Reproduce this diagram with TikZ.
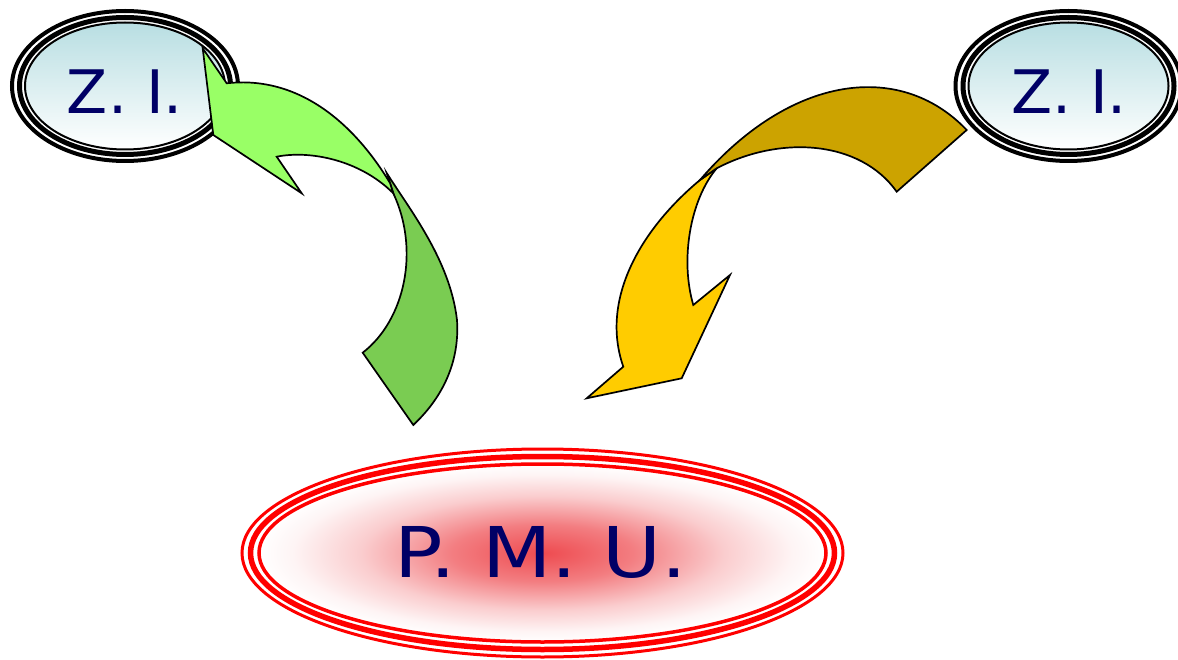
\documentclass[tikz,border=0pt]{standalone}
\usepackage{fontspec}
\usepackage{graphicx}
\usetikzlibrary{shapes.geometric}
\newfontfamily\djv{DejaVu Sans}
\definecolor{navy}{RGB}{0,0,102}
\definecolor{zitop}{RGB}{184,222,226}
\definecolor{pmured}{RGB}{238,75,80}
\definecolor{lgreen}{RGB}{153,255,102}
\definecolor{dgreen}{RGB}{122,204,82}
\definecolor{lgold}{RGB}{255,204,0}
\definecolor{dgold}{RGB}{204,163,0}
\definecolor{ringred}{RGB}{255,0,0}
\pgfdeclareradialshading{pmushade}{\pgfpoint{0bp}{0bp}}{color(0bp)=(pmured); color(8bp)=(pmured!72!white); color(16bp)=(pmured!28!white); color(22bp)=(pmured!6!white); color(25bp)=(white); color(50bp)=(white)}
\begin{document}
\begin{tikzpicture}[x=1pt,y=-1pt,
  ziell/.style={ellipse, draw=black, line width=2pt, minimum width=200pt, minimum height=127pt, inner sep=0pt, top color=zitop, bottom color=white},
  ziring/.style={draw=black},
  zitxt/.style={font=\djv\fontsize{60}{72}\selectfont, text=navy, inner sep=0pt},
  pmuell/.style={ellipse, draw=ringred, line width=3.5pt, minimum width=567pt, minimum height=178pt, inner sep=0pt, shading=pmushade},
  pmuring/.style={draw=ringred},
  pmutxt/.style={font=\djv\fontsize{70}{84}\selectfont, text=navy, inner sep=0pt},
  arrowpart/.style={draw=black, line width=1.7pt, line join=miter}
]
\path[use as bounding box] (0,0) rectangle (1178,660);
\clip (0,0) rectangle (1178,660);

% Z.I. left
\node[ziell] (zil) at (125,86) {};
\draw[ziring, line width=5pt] (zil.center) ellipse (105.5pt and 68.5pt);
\draw[ziring, line width=4pt] (zil.center) ellipse (113pt and 75pt);
\node[zitxt] (zilt) at (125,91.5) {Z. I.};

% Z.I. right
\node[ziell] (zir) at (1068.5,86) {};
\draw[ziring, line width=5pt] (zir.center) ellipse (105.5pt and 68.5pt);
\draw[ziring, line width=4pt] (zir.center) ellipse (113pt and 75pt);
\node[zitxt] (zirt) at (1069,91.5) {Z. I.};

% P.M.U.
\node[pmuell] (pmu) at (542.5,553) {};
\draw[pmuring, line width=5.5pt] (pmu.center) ellipse (292pt and 96.5pt);
\draw[pmuring, line width=3pt] (pmu.center) ellipse (300.5pt and 104pt);
\node[pmutxt] (pmut) at (541,552.5) {\scalebox{1.15}[1]{P. M. U.}};

% green curved arrow (towards left Z.I.)
\draw[arrowpart, fill=dgreen] (386.7,173) .. controls (410,210) and (450,260) .. (457,320)
  .. controls (460,365) and (440,400) .. (413.3,425) -- (362.7,352.7)
  .. controls (405,320) and (420,250) .. (393.3,193.3) -- cycle;
\draw[arrowpart, fill=lgreen] (202.7,48.3) -- (226.7,83.3)
  .. controls (300,75) and (355,125) .. (390,183) -- (393.3,193.3)
  .. controls (360,160) and (310,150) .. (276.7,156.7) -- (301.7,193.3) -- (213.3,135) -- cycle;

% yellow curved arrow (towards P.M.U.)
\draw[arrowpart, fill=lgold] (700,180) .. controls (640,230) and (600,300) .. (623.3,366.7)
  -- (586.7,398.3) -- (681.7,378.3) -- (730,275) -- (693.3,305)
  .. controls (680,260) and (690,200) .. (716.7,168.3) -- cycle;
\draw[arrowpart, fill=dgold] (966.7,130) .. controls (900,60) and (790,75) .. (700,180)
  -- (716.7,168.3) .. controls (780,135) and (860,140) .. (896.7,191.7) -- cycle;
\end{tikzpicture}
\end{document}
